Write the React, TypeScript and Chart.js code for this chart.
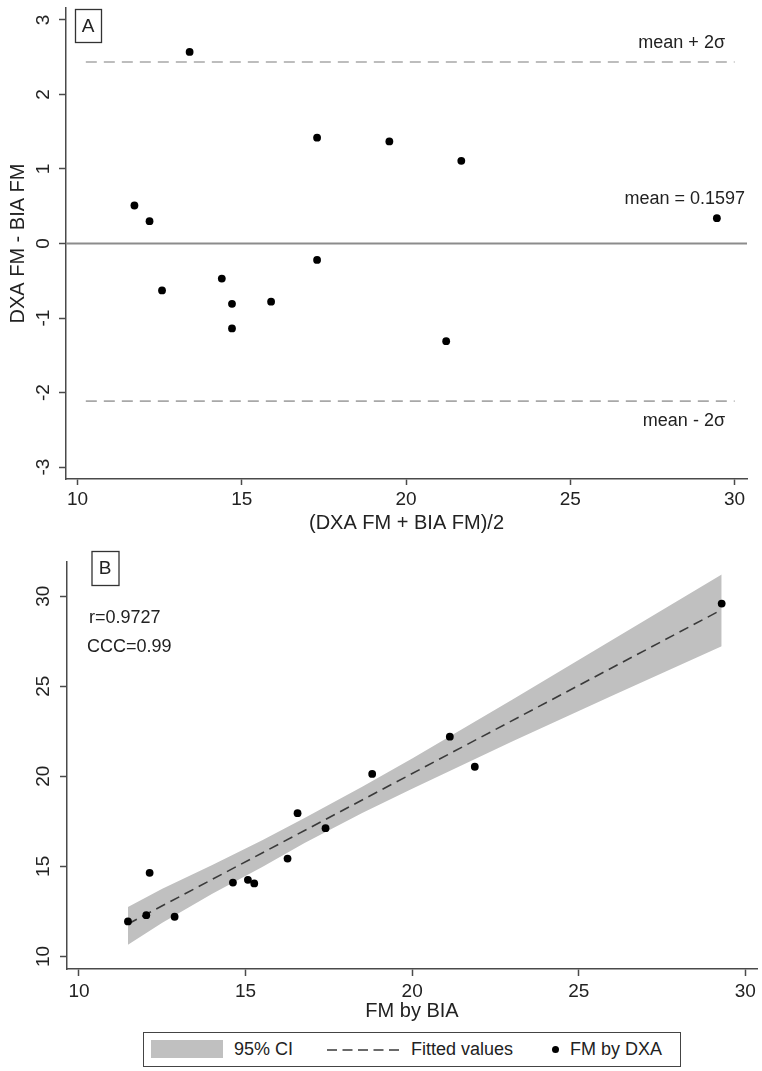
import React, { useEffect, useRef } from 'react';
import { Chart, registerables } from 'chart.js';

Chart.register(...registerables);

// ---------- Panel A: Bland-Altman ----------
const BA_MEAN = [11.73, 12.19, 12.57, 13.41, 14.39, 14.70, 14.70, 15.89, 17.29, 17.29, 19.49, 21.22, 21.68, 29.46];
const BA_DIFF = [0.51, 0.30, -0.63, 2.57, -0.47, -0.81, -1.14, -0.78, 1.42, -0.22, 1.37, -1.31, 1.11, 0.34];
const BA_LIMITS = [2.435, -2.115];
const BA_LIMIT_X = [10.25, 30.0];
const A_X_RANGE = [9.647, 30.377];
const A_Y_RANGE = [-3.16, 3.16];
const A_X_TICKS = [10, 15, 20, 25, 30];
const A_Y_TICKS = [-3, -2, -1, 0, 1, 2, 3];

// ---------- Panel B: regression ----------
const BIA_FM = [11.47, 12.02, 12.12, 12.87, 14.62, 15.07, 15.26, 16.26, 16.56, 17.40, 18.80, 21.13, 21.88, 29.29];
const DXA_FM = [11.94, 12.29, 14.64, 12.20, 14.10, 14.25, 14.05, 15.43, 17.95, 17.12, 20.13, 22.20, 20.53, 29.59];
const FIT_X = [11.47, 29.29];
const FIT_Y = [11.80, 29.25];
const CI_X = [11.47, 12.5, 14.0, 15.5, 16.77, 18.5, 20.0, 23.0, 26.0, 29.29];
const CI_UPPER = [12.74, 13.75, 15.08, 16.45, 17.68, 19.42, 20.99, 24.25, 27.57, 31.20];
const CI_LOWER = [10.65, 11.87, 13.48, 14.97, 16.30, 17.96, 19.31, 21.93, 24.48, 27.22];
const B_X_RANGE = [9.64, 30.35];
const B_Y_RANGE = [9.3, 31.9];
const B_X_TICKS = [10, 15, 20, 25, 30];
const B_Y_TICKS = [10, 15, 20, 25, 30];

const FONT = '"Liberation Sans", Arial, sans-serif';
const AXIS = '#4a4a4a';
const TXT = '#222222';
const BAND = '#c0c0c0';
const DOT_R = 3.9;

function gridOpts(tl: number) {
  return {
    display: true,
    drawOnChartArea: false,
    drawTicks: true,
    tickLength: tl,
    tickWidth: 1.5,
    tickColor: AXIS,
  };
}

function makeX(range: number[], ticks: number[], title: string, h: number, tl: number, pad: number, titlePad: number) {
  return {
    type: 'linear',
    position: 'bottom',
    min: range[0],
    max: range[1],
    afterBuildTicks: (s: any) => { s.ticks = ticks.map((v) => ({ value: v })); },
    afterFit: (s: any) => { s.height = h; s.paddingLeft = 0; s.paddingRight = 0; },
    grid: gridOpts(tl),
    border: { display: true, color: AXIS, width: 1.5 },
    ticks: {
      color: TXT,
      font: { family: FONT, size: 19 },
      padding: pad,
      minRotation: 0,
      maxRotation: 0,
      autoSkip: false,
      callback: (v: any) => String(v),
    },
    title: {
      display: true,
      text: title,
      color: TXT,
      font: { family: FONT, size: 20 },
      padding: { top: 0, bottom: titlePad },
    },
  };
}

function makeY(range: number[], ticks: number[], title: string | null, w: number, tl: number, pad: number) {
  return {
    type: 'linear',
    position: 'left',
    min: range[0],
    max: range[1],
    afterBuildTicks: (s: any) => { s.ticks = ticks.map((v) => ({ value: v })); },
    afterFit: (s: any) => { s.width = w; s.paddingTop = 0; s.paddingBottom = 0; },
    grid: gridOpts(tl),
    border: { display: true, color: AXIS, width: 1.5 },
    ticks: {
      color: TXT,
      font: { family: FONT, size: 19 },
      padding: pad,
      minRotation: 90,
      maxRotation: 90,
      crossAlign: 'center',
      autoSkip: false,
      callback: (v: any) => String(v),
    },
    title: {
      display: !!title,
      text: title || '',
      color: TXT,
      font: { family: FONT, size: 20 },
      padding: { top: 6.5, bottom: 0 },
    },
  };
}

const annotA = {
  id: 'annotA',
  afterDraw(chart: any) {
    const { ctx, chartArea, scales } = chart;
    const y = scales.y;
    ctx.save();
    ctx.fillStyle = TXT;
    ctx.font = `18px ${FONT}`;
    ctx.textAlign = 'right';
    ctx.textBaseline = 'alphabetic';
    ctx.fillText('mean + 2σ', chartArea.right - 22, y.getPixelForValue(BA_LIMITS[0]) - 14);
    ctx.fillText('mean = 0.1597', chartArea.right - 2, y.getPixelForValue(0) - 40);
    ctx.fillText('mean - 2σ', chartArea.right - 22, y.getPixelForValue(BA_LIMITS[1]) + 25);
    // panel tag
    ctx.strokeStyle = '#333';
    ctx.lineWidth = 1.3;
    ctx.strokeRect(75.5, 9.5, 26, 33);
    ctx.font = `19px ${FONT}`;
    ctx.textAlign = 'center';
    ctx.textBaseline = 'middle';
    ctx.fillText('A', 88, 26.5);
    ctx.restore();
  },
};

const annotB = {
  id: 'annotB',
  afterDraw(chart: any) {
    const { ctx } = chart;
    ctx.save();
    ctx.fillStyle = TXT;
    ctx.strokeStyle = '#333';
    ctx.lineWidth = 1.3;
    ctx.strokeRect(92, 11.5, 27, 34);
    ctx.font = `19px ${FONT}`;
    ctx.textAlign = 'center';
    ctx.textBaseline = 'middle';
    ctx.fillText('B', 105, 28.5);
    ctx.font = `18px ${FONT}`;
    ctx.textAlign = 'left';
    ctx.textBaseline = 'alphabetic';
    ctx.fillText('r=0.9727', 89, 83.3);
    ctx.fillText('CCC=0.99', 87, 111.7);
    ctx.restore();
  },
};

function ChartA() {
  const ref = useRef<HTMLCanvasElement | null>(null);
  useEffect(() => {
    if (!ref.current) return;
    const chart = new Chart(ref.current, {
      type: 'scatter',
      data: {
        datasets: [
          {
            type: 'scatter',
            data: BA_MEAN.map((x, i) => ({ x, y: BA_DIFF[i] })),
            pointRadius: DOT_R,
            pointBackgroundColor: '#000',
            pointBorderWidth: 0,
            backgroundColor: '#000',
            borderColor: '#000',
          },
          {
            type: 'line',
            data: A_X_RANGE.map((x) => ({ x, y: 0 })),
            borderColor: '#8c8c8c',
            borderWidth: 2,
            pointRadius: 0,
            fill: false,
          },
          {
            type: 'line',
            data: BA_LIMIT_X.map((x) => ({ x, y: BA_LIMITS[0] })),
            borderColor: '#a8a8a8',
            borderWidth: 1.6,
            borderDash: [11, 7],
            pointRadius: 0,
            fill: false,
          },
          {
            type: 'line',
            data: BA_LIMIT_X.map((x) => ({ x, y: BA_LIMITS[1] })),
            borderColor: '#a8a8a8',
            borderWidth: 1.6,
            borderDash: [11, 7],
            pointRadius: 0,
            fill: false,
          },
        ],
      } as any,
      options: {
        responsive: false,
        animation: false,
        events: [],
        layout: { padding: { left: 0, right: 15, top: 8, bottom: 0 } },
        plugins: { legend: { display: false }, tooltip: { enabled: false } },
        scales: {
          x: makeX(A_X_RANGE, A_X_TICKS, '(DXA FM + BIA FM)/2', 61, 6, 3, 5),
          y: makeY(A_Y_RANGE, A_Y_TICKS, 'DXA FM - BIA FM', 66, 7, 7),
        },
      } as any,
      plugins: [annotA],
    });
    return () => chart.destroy();
  }, []);
  return (
    <canvas
      ref={ref}
      width={762}
      height={540}
      style={{ position: 'absolute', left: 0, top: 0, width: 762, height: 540 }}
    />
  );
}

function ChartB() {
  const ref = useRef<HTMLCanvasElement | null>(null);
  useEffect(() => {
    if (!ref.current) return;
    const chart = new Chart(ref.current, {
      type: 'scatter',
      data: {
        datasets: [
          {
            type: 'scatter',
            label: 'FM by DXA',
            data: BIA_FM.map((x, i) => ({ x, y: DXA_FM[i] })),
            pointRadius: DOT_R,
            pointBackgroundColor: '#000',
            pointBorderWidth: 0,
            backgroundColor: '#000',
            borderColor: '#000',
          },
          {
            type: 'line',
            label: 'Fitted values',
            data: FIT_X.map((x, i) => ({ x, y: FIT_Y[i] })),
            borderColor: '#3a3a3a',
            borderWidth: 1.6,
            borderDash: [10, 6],
            pointRadius: 0,
            fill: false,
          },
          {
            type: 'line',
            label: '95% CI',
            data: CI_X.map((x, i) => ({ x, y: CI_UPPER[i] })),
            borderColor: 'rgba(0,0,0,0)',
            borderWidth: 1,
            backgroundColor: BAND,
            pointRadius: 0,
            fill: '+1',
            tension: 0,
          },
          {
            type: 'line',
            label: 'ci-lower',
            data: CI_X.map((x, i) => ({ x, y: CI_LOWER[i] })),
            borderColor: 'rgba(0,0,0,0)',
            borderWidth: 1,
            pointRadius: 0,
            fill: false,
            tension: 0,
          },
        ],
      } as any,
      options: {
        responsive: false,
        animation: false,
        events: [],
        layout: { padding: { left: 0, right: 5, top: 22, bottom: 0 } },
        plugins: { legend: { display: false }, tooltip: { enabled: false } },
        scales: {
          x: makeX(B_X_RANGE, B_X_TICKS, 'FM by BIA', 61, 7, 4.6, 6.3),
          y: makeY(B_Y_RANGE, B_Y_TICKS, null, 67, 7, 6),
        },
      } as any,
      plugins: [annotB],
    });
    return () => chart.destroy();
  }, []);
  return (
    <canvas
      ref={ref}
      width={762}
      height={490}
      style={{ position: 'absolute', left: 0, top: 540, width: 762, height: 490 }}
    />
  );
}

function Legend() {
  const txt: React.CSSProperties = {
    position: 'absolute',
    top: 6,
    lineHeight: '20px',
    fontSize: 18,
    whiteSpace: 'nowrap',
  };
  return (
    <div
      style={{
        position: 'absolute',
        left: 143,
        top: 1032,
        width: 538,
        height: 35,
        border: '1.5px solid #444',
        boxSizing: 'border-box',
        fontFamily: FONT,
        color: TXT,
        background: '#fff',
      }}
    >
      <div style={{ position: 'absolute', left: 7, top: 7, width: 72, height: 18, background: BAND }} />
      <span style={{ ...txt, left: 90 }}>95% CI</span>
      <svg style={{ position: 'absolute', left: 183, top: 15 }} width={72} height={4}>
        <line x1={0} y1={2} x2={72} y2={2} stroke="#3a3a3a" strokeWidth={1.5} strokeDasharray="10 5.5" />
      </svg>
      <span style={{ ...txt, left: 267 }}>Fitted values</span>
      <div
        style={{
          position: 'absolute',
          left: 408,
          top: 13,
          width: 7,
          height: 7,
          borderRadius: '50%',
          background: '#000',
        }}
      />
      <span style={{ ...txt, left: 426 }}>FM by DXA</span>
    </div>
  );
}

export default function App() {
  return (
    <div
      style={{
        position: 'absolute',
        left: 0,
        top: 0,
        width: 762,
        height: 1071,
        overflow: 'hidden',
        background: '#fff',
      }}
    >
      <ChartA />
      <ChartB />
      <Legend />
    </div>
  );
}
